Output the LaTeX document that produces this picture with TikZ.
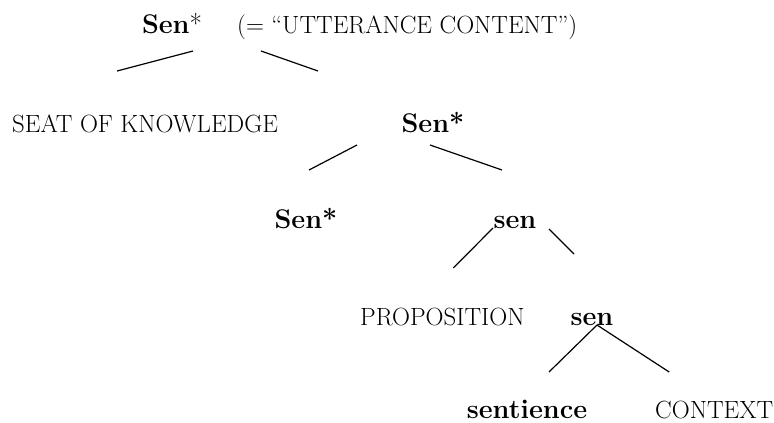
\documentclass[tikz,border=0pt]{standalone}
\usepackage{fontspec}
\usepackage{tikz}

\begin{document}
\begin{tikzpicture}[x=1pt, y=-1pt,
        cat/.style={inner sep=0pt, font=\fontsize{27}{31}\selectfont\bfseries},
        role/.style={inner sep=0pt, font=\fontsize{24.9}{29}\selectfont},
        branch/.style={line width=1.2pt}]
    \useasboundingbox (0,0) rectangle (774,423);

    % Root with its gloss
    \node[cat, anchor=base] (top) at (172,34) {Sen\textmd{*}};
    \node[role, anchor=base west] (gloss) at (237,34) {(= “UTTERANCE CONTENT”)};

    % Second level
    \node[role, anchor=base west] (seat) at (12,132) {SEAT OF KNOWLEDGE};
    \node[cat, anchor=base] (senA) at (433,132) {Sen*};

    % Third level
    \node[cat, anchor=base] (senB) at (306,228) {Sen*};
    \node[cat, anchor=base] (senC) at (515,228) {sen};

    % Fourth level
    \node[role, anchor=base west] (prop) at (360,325) {PROPOSITION};
    \node[cat, anchor=base] (senD) at (592,325) {sen};

    % Leaves
    \node[cat, anchor=base] (sent) at (527,418) {sentience};
    \node[role, anchor=base west] (ctx) at (655,418) {CONTEXT};

    % Branches
    \draw[branch] ([shift={(21,17)}]top.base) -- ([shift={(-28,-61)}]seat.base);
    \draw[branch] ([shift={(89,17)}]top.base) -- ([shift={(-115,-61)}]senA.base);
    \draw[branch] ([shift={(-76,13)}]senA.base) -- ([shift={(3,-58)}]senB.base);
    \draw[branch] ([shift={(-3,13)}]senA.base) -- ([shift={(-13,-58)}]senC.base);
    \draw[branch] ([shift={(-22,0)}]senC.base) -- ([shift={(11,-57)}]prop.base);
    \draw[branch] ([shift={(34,1)}]senC.base) -- ([shift={(-18,-71)}]senD.base);
    \draw[branch] ([shift={(5,0)}]senD.base) -- ([shift={(22,-46)}]sent.base);
    \draw[branch] ([shift={(5,0)}]senD.base) -- ([shift={(-45,-46)}]ctx.base);
\end{tikzpicture}
\end{document}
